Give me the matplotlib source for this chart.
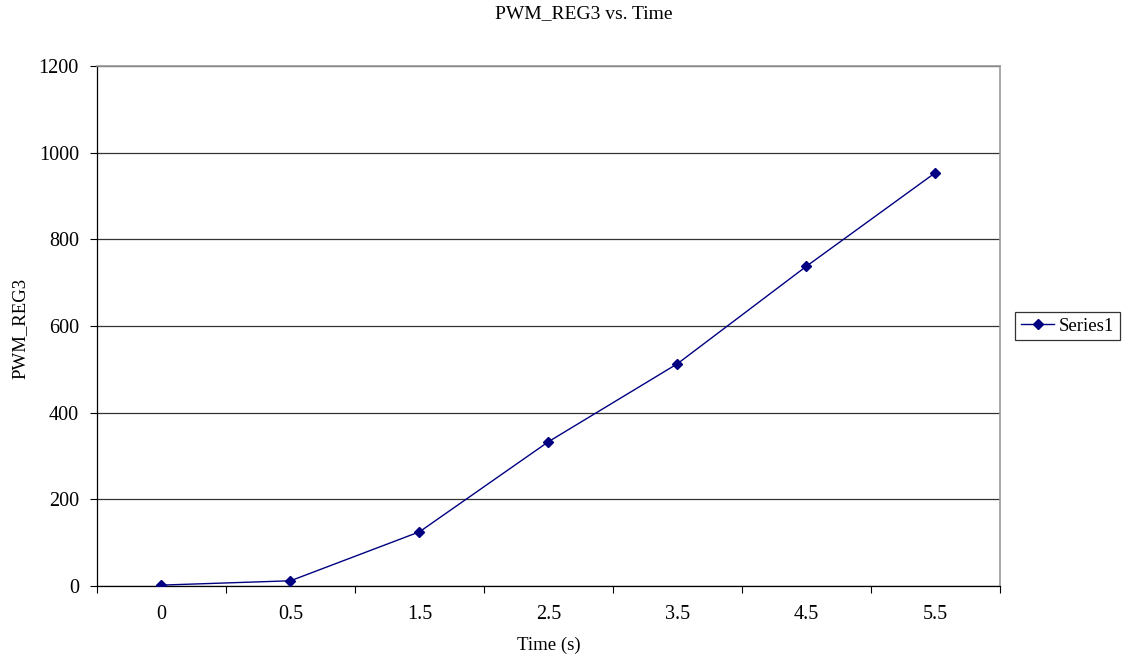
import matplotlib
matplotlib.use("Agg")
import matplotlib.pyplot as plt
import numpy as np

categories = ["0", "0.5", "1.5", "2.5", "3.5", "4.5", "5.5"]
pwm_reg3 = [2, 12, 125, 333, 513, 738, 954]
y_ticks = [0, 200, 400, 600, 800, 1000, 1200]

plt.rcParams["font.family"] = ["Liberation Serif", "DejaVu Serif"]

fig = plt.figure(figsize=(11.33, 6.57), dpi=100)
ax = fig.add_axes([0.0856, 0.1081, 0.7970, 0.7914])

x = np.arange(len(categories))
ax.plot(x, pwm_reg3, color="#000080", linewidth=1.0, marker="D",
        markersize=5, markerfacecolor="#000080", markeredgecolor="#000080",
        label="Series1", zorder=3)

ax.set_xlim(-0.5, len(categories) - 0.5)
ax.set_ylim(y_ticks[0], y_ticks[-1])
ax.set_yticks(y_ticks)
ax.set_yticklabels([str(v) for v in y_ticks], fontsize=14.5)

ax.set_xticks(x)
ax.set_xticklabels(categories, fontsize=14.5)
ax.set_xticks(np.arange(len(categories) + 1) - 0.5, minor=True)
ax.tick_params(axis="x", which="major", length=0, pad=14)
ax.tick_params(axis="x", which="minor", length=5, width=0.8, color="black")
ax.tick_params(axis="y", which="major", length=5, width=0.8, pad=8)

ax.yaxis.grid(True, color="#333333", linewidth=0.9)
ax.set_axisbelow(True)

for side in ("top", "right"):
    ax.spines[side].set_color("#999999")
    ax.spines[side].set_linewidth(1.2)
for side in ("left", "bottom"):
    ax.spines[side].set_color("black")
    ax.spines[side].set_linewidth(0.9)

ax.set_xlabel("Time (s)", fontsize=13.5, labelpad=9)
fig.text(20 / 1133, 0.5, "PWM_REG3", rotation=90, ha="center", va="center",
         fontsize=13.5)
fig.text(0.5155, 0.979, "PWM_REG3 vs. Time", ha="center", va="center", fontsize=14)

leg = ax.legend(loc="center left", bbox_to_anchor=(1.0167, 0.5), fontsize=13.5,
                frameon=True, fancybox=False, edgecolor="black",
                handlelength=1.8, borderpad=0.3, borderaxespad=0.0,
                handletextpad=0.25)
leg.get_frame().set_linewidth(0.9)

fig.savefig("out.png", dpi=100)
